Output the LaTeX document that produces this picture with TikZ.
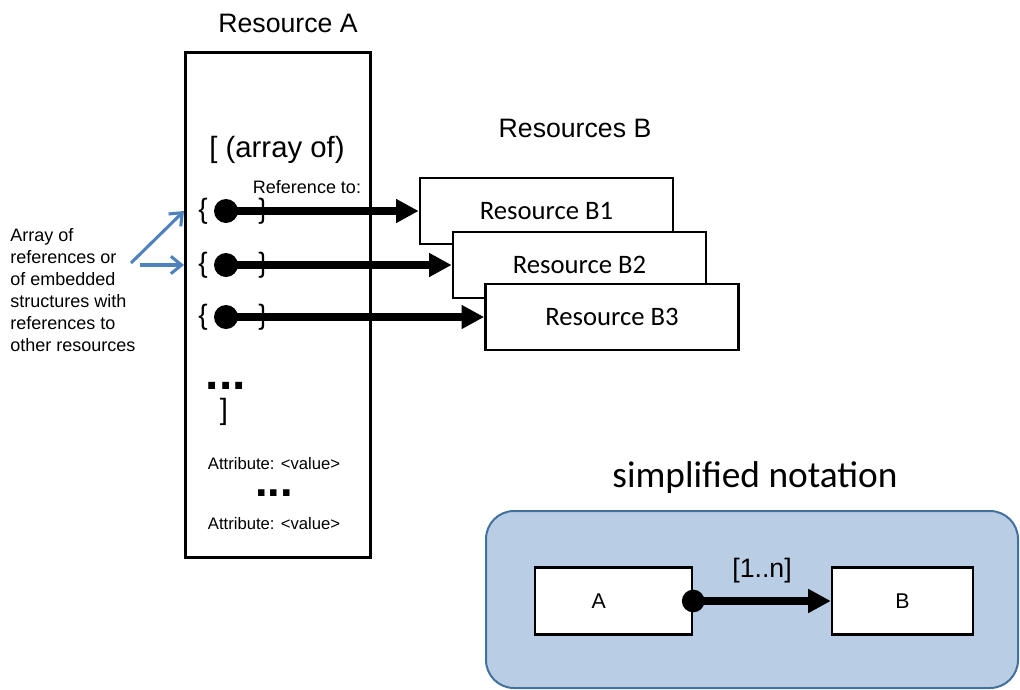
\documentclass[tikz,border=0pt]{standalone}
\usepackage{fontspec}
\setmainfont{Liberation Sans}
\newfontfamily\calibri{Carlito}
\usetikzlibrary{arrows.meta}
\definecolor{panelfill}{HTML}{B9CDE5}
\definecolor{paneldraw}{HTML}{41719C}
\definecolor{noteblue}{HTML}{4F81BD}
\tikzset{
  resbox/.style={draw, line width=2pt, fill=white, minimum width=189.75pt, minimum height=49.5pt, font=\calibri\fontsize{20}{24}\selectfont},
  refline/.style={line width=5.5pt, -{Triangle[length=17pt,width=17pt]}},
  refdot/.style={circle, fill, inner sep=0pt, minimum size=18pt},
  brace/.style={font=\fontsize{21}{24}\selectfont, inner sep=0pt},
  dots/.style={font=\bfseries\fontsize{36}{36}\selectfont, anchor=base, inner sep=0pt, text height=5pt, text depth=0pt},
  attr/.style={font=\fontsize{12.5}{15}\selectfont},
  noteline/.style={noteblue, line width=2.3pt, -{Straight Barb[length=8pt,width=13pt]}},
  smallbox/.style={draw, line width=1.8pt, fill=white, minimum height=50pt, font=\fontsize{16}{18}\selectfont}
}
\begin{document}
\begin{tikzpicture}[x=0.75pt, y=-0.75pt]
\useasboundingbox (0,0) rectangle (1020,689);
\node[font=\fontsize{20}{24}\selectfont] (titleA) at (288,23) {Resource A};
\node[draw, line width=2.25pt, minimum width=138.75pt, minimum height=378.75pt] (resA) at (278,304.5) {};
\node[font=\fontsize{20}{24}\selectfont] (titleB) at (575,128) {Resources B};
\node[font=\fontsize{22}{26}\selectfont] (open) at (277,150) {[ (array of)};
\node[font=\fontsize{13.5}{16}\selectfont, inner sep=1pt] (refto) at (307,187) {Reference to:};
\foreach \i/\y/\bx in {1/211/546.5, 2/265/579.5, 3/317/612}
{
    \node[resbox] (b\i) at (\bx,\y) {Resource B\i};
    \node[brace] (ob\i) at (203,\y) {\{};
    \node[brace] (cb\i) at (263,\y) {\}};
    \node[refdot] (d\i) at (226,\y) {};
    \draw[refline] (d\i.center) -- (b\i.west);
}
\node[align=left, anchor=west, inner sep=0pt, font=\fontsize{13.5}{16.5}\selectfont] (note) at (10,290) {Array of\\references or\\of embedded\\structures with\\references to\\other resources};
\coordinate (n1) at (131,263);
\coordinate (n2) at (140,265);
\draw[noteline] (n1) -- (resA.west |- d1);
\draw[noteline] (n2) -- (resA.west |- d2);
\node[dots] (more) at (226,389) {...};
\node[font=\fontsize{22}{26}\selectfont, inner sep=0pt] (close) at (224,412) {]};
\node[attr] (attr1) at (274,464) {Attribute: <value>};
\node[dots, font=\bfseries\fontsize{34}{34}\selectfont] (moreattr) at (274,496) {...};
\node[attr] (attr2) at (274,524) {Attribute: <value>};
\node[font=\calibri\fontsize{28}{32}\selectfont] (simple) at (755,478) {simplified notation};
\node[draw=paneldraw, fill=panelfill, line width=1.5pt, rounded corners=21pt, minimum width=399pt, minimum height=132.75pt] (panel) at (752,599.5) {};
\node[smallbox, minimum width=117.75pt, label={[xshift=-11pt, font=\fontsize{16}{18}\selectfont]center:A}] (sa) at (613.5,601) {};
\node[smallbox, minimum width=105.75pt] (sb) at (902.5,601) {B};
\node[refdot, minimum size=17pt] (sd) at (sa.east) {};
\draw[refline] (sd.center) -- (sb.west);
\node[font=\fontsize{20}{22}\selectfont] (mult) at (762,571) {[1..n]};
\end{tikzpicture}
\end{document}
